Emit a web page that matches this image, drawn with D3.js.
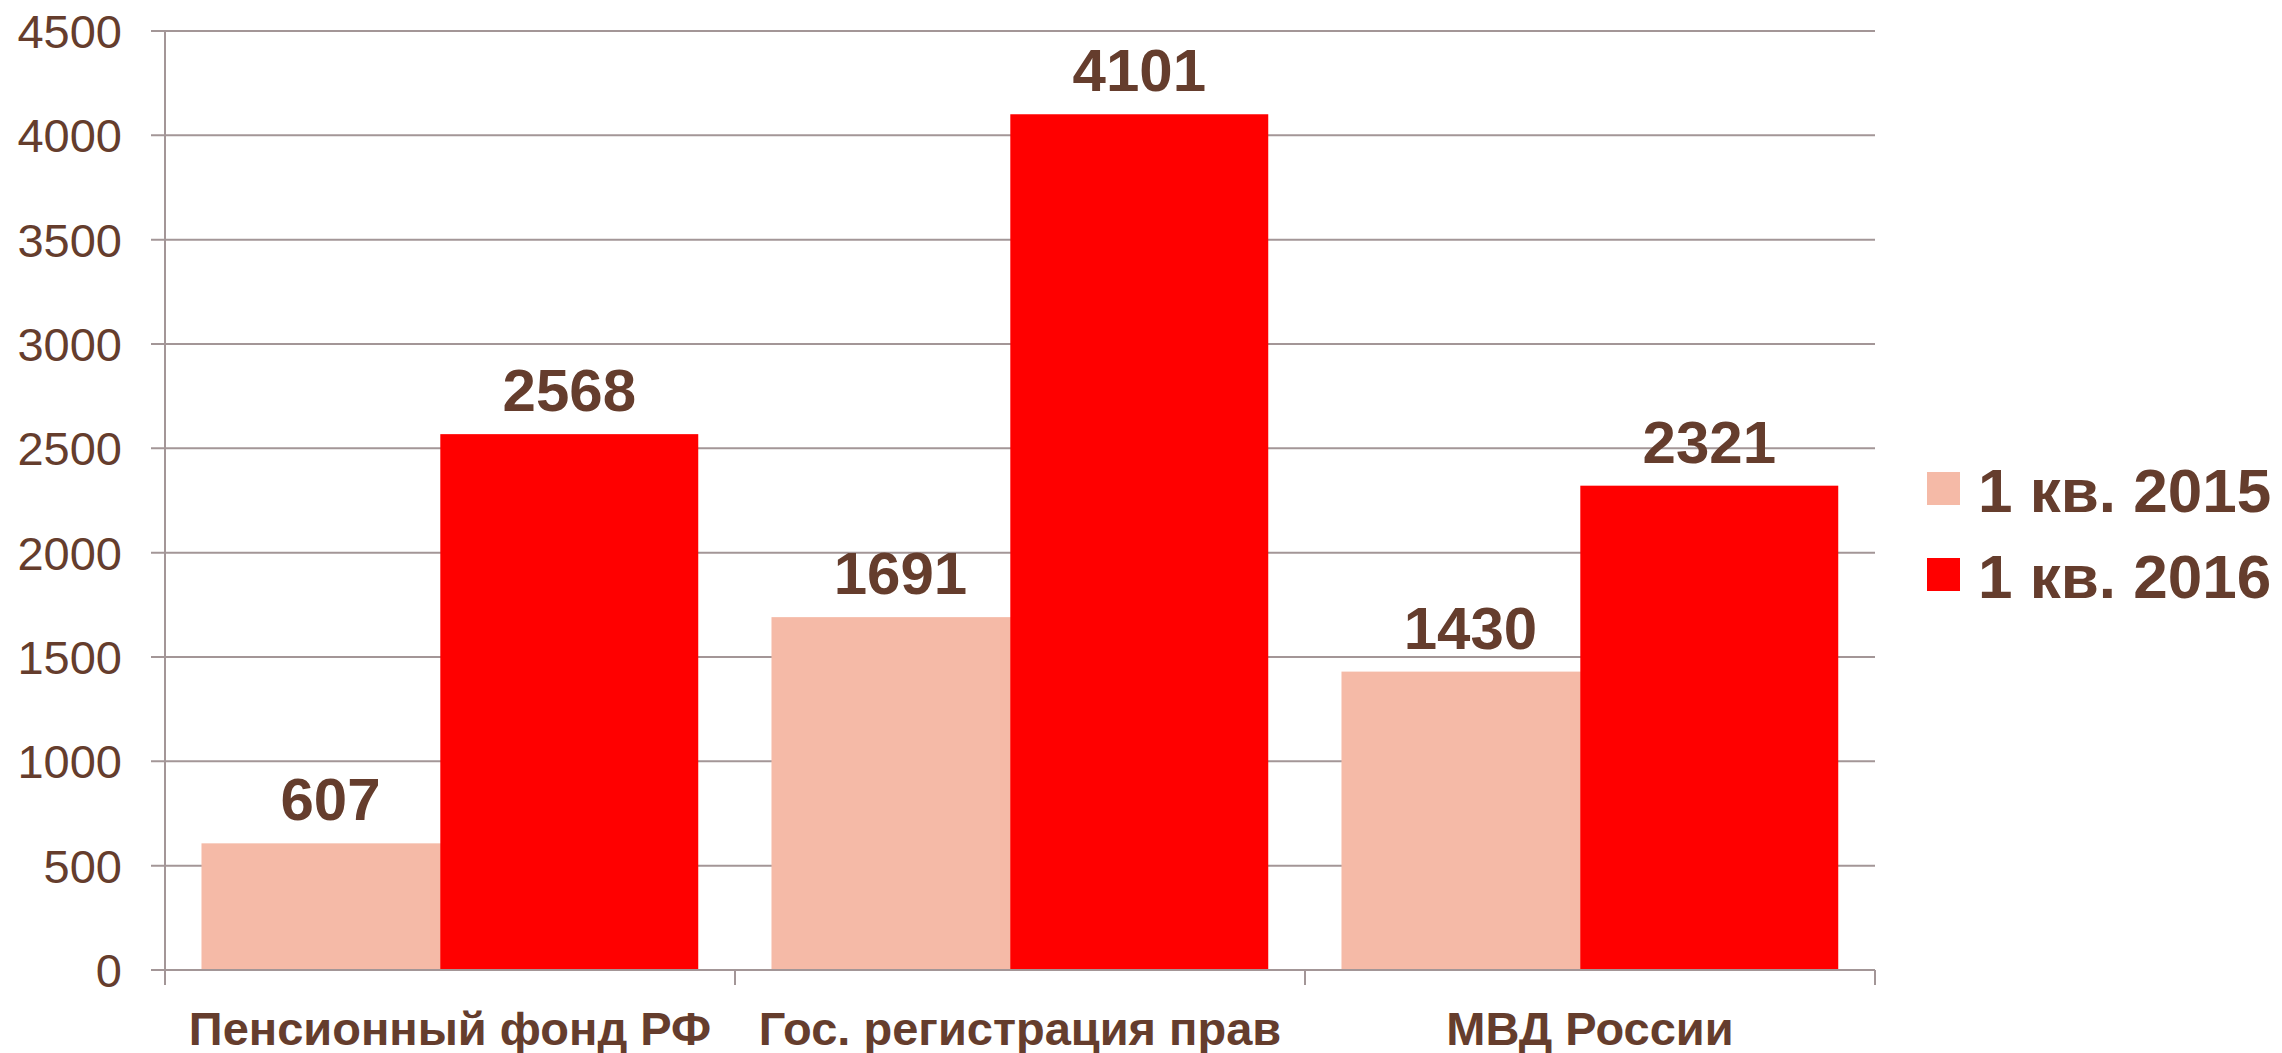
<!doctype html>
<html lang="ru">
<head>
<meta charset="utf-8">
<title>1 кв. 2015 / 1 кв. 2016</title>
<style>
  html, body { margin: 0; padding: 0; background: #fff; }
  svg { display: block; font-family: "Liberation Sans", Arial, sans-serif; }
</style>
</head>
<body>
<svg id="chart" width="2282" height="1053"></svg>
<script src="https://cdn.jsdelivr.net/npm/d3@7"></script>
<script>
// data
var categories = ["Пенсионный фонд РФ", "Гос. регистрация прав", "МВД России"];
var series = ["1 кв. 2015", "1 кв. 2016"];
var values2015 = [607, 1691, 1430];
var values2016 = [2568, 4101, 2321];
var yTicks = [0, 500, 1000, 1500, 2000, 2500, 3000, 3500, 4000, 4500];

var colors = ["#F5BAA7", "#FF0000"];
var brown = "#653D2D";
var gridColor = "#A39697";

// plot area (note: "top" is reserved on window)
var plotLeft = 165, plotRight = 1875, plotTop = 31, plotBottom = 970;

var svg = d3.select("#chart");

var y = d3.scaleLinear().domain([0, 4500]).range([plotBottom, plotTop]);
var x0 = d3.scaleBand().domain(categories).range([plotLeft, plotRight]);
var gap = x0.bandwidth() * 0.064;
var x1 = d3.scaleBand().domain(series).range([gap, gap + x0.bandwidth() * 0.838]);
var barW = x1.bandwidth() * 1.08; // second series overlaps the first a bit

// grid lines
svg.append("g").selectAll("line")
  .data(yTicks)
  .join("line")
  .attr("x1", plotLeft - 14)
  .attr("x2", plotRight)
  .attr("y1", function(d) { return y(d); })
  .attr("y2", function(d) { return y(d); })
  .style("stroke", gridColor)
  .style("stroke-width", 2);

// y axis line
svg.append("line")
  .attr("x1", plotLeft).attr("x2", plotLeft)
  .attr("y1", plotTop).attr("y2", plotBottom)
  .style("stroke", gridColor).style("stroke-width", 2);

// y tick labels
svg.append("g").selectAll("text")
  .data(yTicks)
  .join("text")
  .attr("x", plotLeft - 43)
  .attr("y", function(d) { return y(d); })
  .attr("dy", "0.36em")
  .attr("text-anchor", "end")
  .attr("fill", brown)
  .style("font-size", "47px")
  .text(function(d) { return d; });

// bars
var table = categories.map(function(c, i) {
  return { cat: c, vals: [values2015[i], values2016[i]] };
});

var groups = svg.append("g").selectAll("g")
  .data(table)
  .join("g")
  .attr("transform", function(d) { return "translate(" + x0(d.cat) + ",0)"; });

groups.selectAll("rect")
  .data(function(d) { return d.vals.map(function(v, j) { return { s: series[j], v: v, j: j }; }); })
  .join("rect")
  .attr("x", function(d) { return x1(d.s); })
  .attr("y", function(d) { return y(d.v); })
  .attr("width", barW)
  .attr("height", function(d) { return plotBottom - y(d.v); })
  .style("fill", function(d) { return colors[d.j]; });

groups.selectAll("text.val")
  .data(function(d) { return d.vals.map(function(v, j) { return { s: series[j], v: v, j: j }; }); })
  .join("text")
  .attr("class", "val")
  .attr("x", function(d) { return x1(d.s) + barW / 2; })
  .attr("y", function(d) { return y(d.v) - 23; })
  .attr("text-anchor", "middle")
  .attr("fill", brown)
  .style("font-size", "60px")
  .style("font-weight", "bold")
  .text(function(d) { return d.v; });

// x axis line and ticks
svg.append("line")
  .attr("x1", plotLeft - 14).attr("x2", plotRight)
  .attr("y1", plotBottom).attr("y2", plotBottom)
  .style("stroke", gridColor).style("stroke-width", 2);

var bounds = categories.map(function(c) { return x0(c); }).concat([plotRight]);
svg.append("g").selectAll("line")
  .data(bounds)
  .join("line")
  .attr("x1", function(d) { return d; })
  .attr("x2", function(d) { return d; })
  .attr("y1", plotBottom)
  .attr("y2", plotBottom + 15)
  .style("stroke", gridColor).style("stroke-width", 2);

// category labels
svg.append("g").selectAll("text")
  .data(categories)
  .join("text")
  .attr("x", function(d) { return x0(d) + x0.bandwidth() / 2; })
  .attr("y", 1045)
  .attr("text-anchor", "middle")
  .attr("fill", brown)
  .style("font-size", "47px")
  .style("font-weight", "bold")
  .text(function(d) { return d; });

// legend
var legend = svg.append("g").selectAll("g")
  .data(series)
  .join("g")
  .attr("transform", function(d, i) { return "translate(1927," + (512 + i * 86) + ")"; });

legend.append("rect")
  .attr("x", 0)
  .attr("y", -40)
  .attr("width", 33)
  .attr("height", 33)
  .style("fill", function(d, i) { return colors[i]; });

legend.append("text")
  .attr("x", 51)
  .attr("y", 0)
  .attr("fill", brown)
  .style("font-size", "62px")
  .style("font-weight", "bold")
  .text(function(d) { return d; });
</script>
</body>
</html>
